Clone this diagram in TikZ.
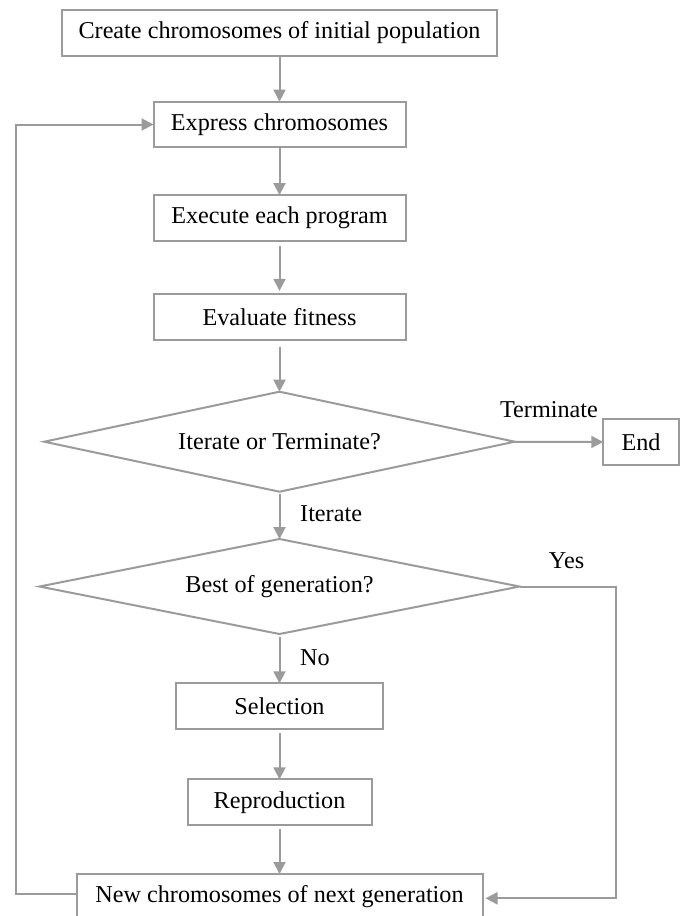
\documentclass[tikz,border=0pt]{standalone}
\usepackage{fontspec}
\setmainfont{Liberation Serif}
\usetikzlibrary{shapes.geometric,arrows.meta}
\definecolor{linegray}{RGB}{155,155,155}
\tikzset{
  txt/.style={text=black, font=\fontsize{24.2}{29}\selectfont},
  stepbox/.style={draw=linegray, line width=2pt, rectangle, inner sep=0pt, outer sep=0pt,
    minimum height=45.7pt, txt},
  decide/.style={draw=linegray, line width=2pt, diamond, aspect=4.8, inner sep=0pt, outer sep=0pt, txt},
  lbl/.style={inner sep=0pt, txt},
  arr/.style={draw=linegray, line width=2pt, -{Triangle[length=12pt,width=12pt]}},
}
\begin{document}
\begin{tikzpicture}[x=1pt,y=-1pt]
\useasboundingbox (0,0) rectangle (680,916);
\clip (0,0) rectangle (680,916);
\node[stepbox, minimum width=435.8pt] (cr) at (279.5,32.9) {Create chromosomes of initial population};
\node[stepbox, minimum width=252pt] (ex) at (279.5,124.5) {Express chromosomes};
\node[stepbox, minimum width=252pt] (pr) at (279.5,217.9) {Execute each program};
\node[stepbox, minimum width=252pt] (ev) at (279.5,316.7) {Evaluate fitness};
\node[decide, minimum width=470.5pt, minimum height=100pt] (d1) at (279.5,441.7) {Iterate or Terminate?};
\node[stepbox, minimum width=75.5pt] (en) at (641,442) {End};
\node[decide, minimum width=480pt, minimum height=95pt] (d2) at (279.5,586.5) {Best of generation?};
\node[stepbox, minimum width=206.8pt, minimum height=46pt] (se) at (279.5,706.3) {Selection};
\node[stepbox, minimum width=184pt, minimum height=46pt] (re) at (279.5,802.3) {Reproduction};
\node[stepbox, minimum width=406pt, minimum height=46pt] (nw) at (279.5,897) {New chromosomes of next generation};

\node[lbl] (lt) at (549,409.3) {Terminate};
\node[lbl, anchor=west] (li) at (300,513.3) {Iterate};
\node[lbl, anchor=west] (ln) at (300,657.3) {No};
\node[lbl] (ly) at (566.6,560.7) {Yes};

\coordinate (L) at (15.5,500);
\coordinate (R) at (616,700);

\draw[arr] (cr) -- (ex);
\draw[arr] (ex) -- (pr);
\draw[arr, shorten <=5pt, shorten >=3pt] (pr) -- (ev);
\draw[arr, shorten <=7pt] (ev) -- (d1);
\draw[arr] (d1) -- (en);
\draw[arr, shorten <=2pt] (d1) -- (d2);
\draw[arr, shorten <=3pt] (d2) -- (se);
\draw[arr, shorten <=4pt] (se) -- (re);
\draw[arr, shorten <=4pt] (re) -- (nw);
\draw[arr] ([yshift=3pt]nw.west) -| (L) |- (ex.west);
\draw[arr, shorten >=3pt] (d2.east) -| (R) |- ([yshift=-1.3pt]nw.east);
\end{tikzpicture}
\end{document}
